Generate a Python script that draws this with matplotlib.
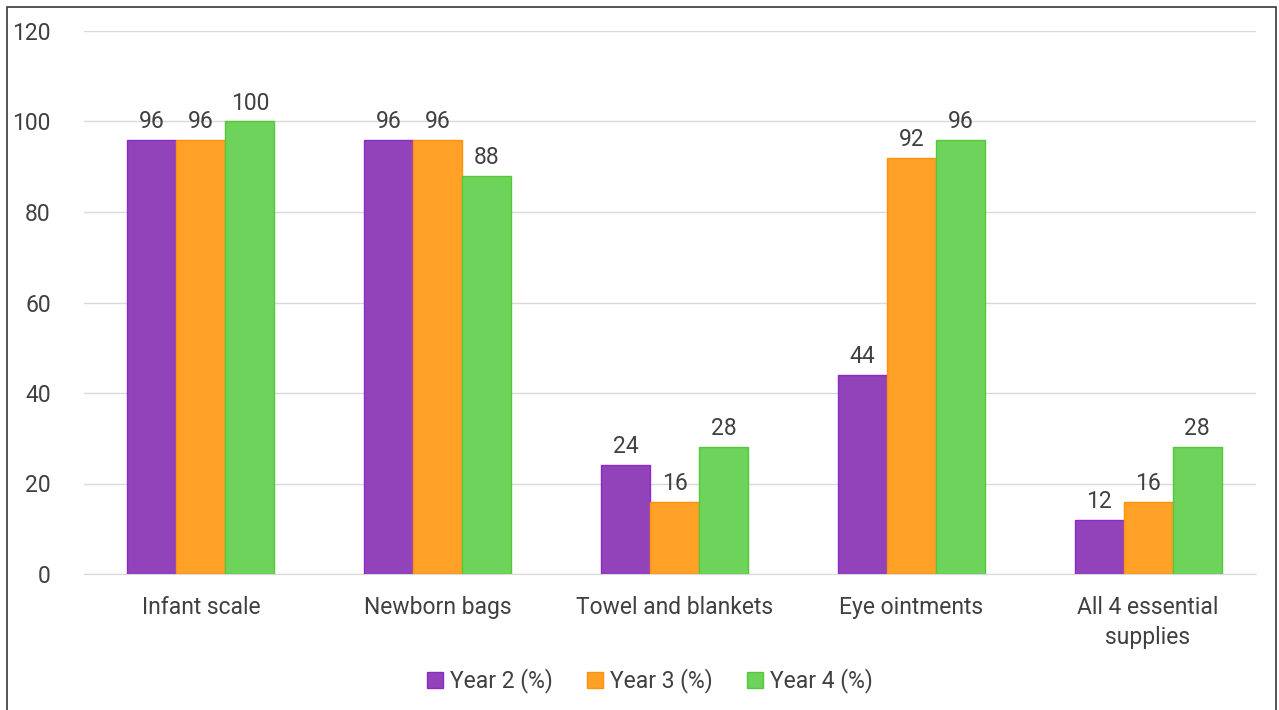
import matplotlib
matplotlib.use("Agg")
import matplotlib.pyplot as plt
import numpy as np
from matplotlib.patches import Rectangle

plt.rcParams['font.family'] = ['Roboto', 'DejaVu Sans']

categories = ["Infant scale", "Newborn bags", "Towel and blankets", "Eye ointments", "All 4 essential\nsupplies"]
year2 = [96, 96, 24, 44, 12]
year3 = [96, 96, 16, 92, 16]
year4 = [100, 88, 28, 96, 28]
series_names = ["Year 2 (%)", "Year 3 (%)", "Year 4 (%)"]

colors = ["#9343B9", "#FFA126", "#6DD35A"]
edges = ["#8A2BC9", "#FF9010", "#55C83A"]
text_color = "#404040"
fs = 16.5

W, H = 1279, 710
fig = plt.figure(figsize=(W / 100, H / 100), dpi=100)
ax = fig.add_axes([84 / W, 1 - 574 / H, (1256 - 84) / W, (574 - 31) / H])

x = np.arange(len(categories))
bw = 0.207
for i, vals in enumerate([year2, year3, year4]):
    pos = x + (i - 1) * bw
    bars = ax.bar(pos, vals, width=bw, color=colors[i], edgecolor=edges[i],
                  linewidth=1, label=series_names[i], zorder=3)
    for b, v in zip(bars, vals):
        ax.annotate(str(v), (b.get_x() + b.get_width() / 2, v), xytext=(0, 5),
                    textcoords="offset points", ha="center", va="bottom",
                    fontsize=fs, color=text_color)

ax.set_xlim(-0.494, 4.456)
ax.set_ylim(0, 120)
ax.set_yticks(range(0, 121, 20))
ax.yaxis.grid(True, color="#D9D9D9", linewidth=1, zorder=0)
ax.set_xticks(x)
ax.set_xticklabels(categories, fontsize=fs, color=text_color, linespacing=1.4)
ax.tick_params(axis="x", length=0, pad=16)
ax.tick_params(axis="y", length=0, pad=24, labelsize=fs, labelcolor=text_color)
for s in ["top", "right", "left"]:
    ax.spines[s].set_visible(False)
ax.spines["bottom"].set_color("#D9D9D9")

leg = fig.legend(loc="center", bbox_to_anchor=(650 / W, 1 - 681 / H), ncol=3,
                 frameon=False, fontsize=fs, handlelength=0.7, handleheight=0.7,
                 handletextpad=0.3, columnspacing=1.5)
for t in leg.get_texts():
    t.set_color(text_color)

fig.patches.append(Rectangle((7 / W, -0.01), (1276 - 7) / W, 1 - 7 / H + 0.01,
                             transform=fig.transFigure, fill=False,
                             edgecolor="#3A3A3A", linewidth=1.2))

fig.savefig("out.png", dpi=100)
